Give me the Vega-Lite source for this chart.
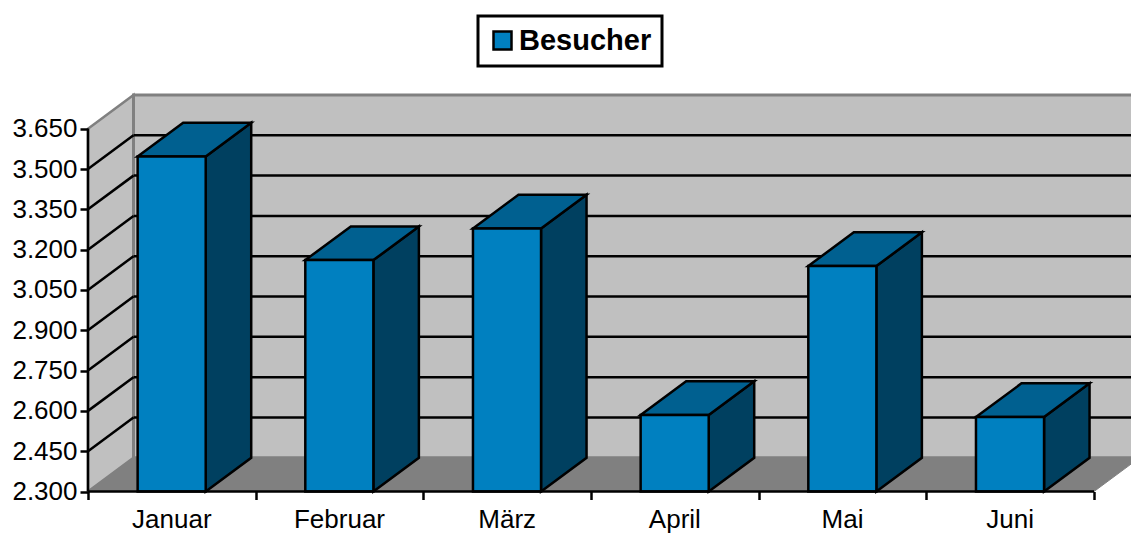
{
"$schema":"https://vega.github.io/schema/vega-lite/v6.json",
"width":1043,"height":396.5,
"autosize":{"type":"none"},
"padding":{"left":88,"top":95,"right":0,"bottom":41.5},
"background":"white",
"params":[{"name":"dx","value":0.2714},{"name":"dy","value":125.4},{"name":"b0","value":0.296},{"name":"b1","value":0.702}],
"datasets":{
"frame":[{"min":2300,"max":3650,"n":6}],
"grid":[{"v":2450},{"v":2600},{"v":2750},{"v":2900},{"v":3050},{"v":3200},{"v":3350},{"v":3500},{"v":3650}],
"bars":[
{"monat":"Januar","pos":0,"besucher":3547},
{"monat":"Februar","pos":1,"besucher":3161},
{"monat":"März","pos":2,"besucher":3279},
{"monat":"April","pos":3,"besucher":2585},
{"monat":"Mai","pos":4,"besucher":3139},
{"monat":"Juni","pos":5,"besucher":2577}
]},
"config":{"view":{"stroke":null},"font":"Liberation Sans",
"legend":{"strokeColor":"black","strokeWidth":3,"fillColor":"white"}},
"layer":[
{"data":{"name":"frame"},
"transform":[{"calculate":"[0,1]","as":"d"},{"flatten":["d"]},{"calculate":"datum.d*dx","as":"xp"},{"calculate":"datum.max+datum.d*dy","as":"yt"},{"calculate":"datum.min+datum.d*dy","as":"yb"}],
"mark":{"type":"area","orient":"vertical","fill":"#C0C0C0","stroke":"#808080","strokeWidth":2.5},
"encoding":{
"x":{"field":"xp","type":"quantitative","scale":{"domain":[0,6.2206]},"axis":{"values":[0,1,2,3,4,5,6],"labels":false,"domain":false,"grid":false,"title":null,"tickSize":8,"tickWidth":2.5,"tickColor":"black","zindex":1}},
"y":{"field":"yt","type":"quantitative","stack":null,"scale":{"domain":[2300,3775.4]},"axis":{"values":[2300,2450,2600,2750,2900,3050,3200,3350,3500,3650],"labelExpr":"replace(format(datum.value, ','), ',', '.')","domain":false,"grid":false,"title":null,"tickSize":8,"tickWidth":2.5,"tickColor":"black","labelFontSize":26,"labelFont":"Liberation Sans","labelColor":"black","labelPadding":3,"labelBaseline":"middle","zindex":1}},
"y2":{"field":"yb"}}},
{"data":{"name":"frame"},
"transform":[{"calculate":"dx","as":"x0"},{"calculate":"datum.n+dx","as":"x1"},{"calculate":"datum.max+dy","as":"y1"},{"calculate":"datum.min+dy","as":"y0"}],
"mark":{"type":"rect","fill":"#C0C0C0","stroke":"#808080","strokeWidth":3},
"encoding":{
"x":{"field":"x0","type":"quantitative","scale":{"domain":[0,6.2206]}},"x2":{"field":"x1"},
"y":{"field":"y0","type":"quantitative","scale":{"domain":[2300,3775.4]}},"y2":{"field":"y1"}}},
{"data":{"name":"frame"},
"transform":[{"calculate":"[0,1]","as":"d"},{"flatten":["d"]},{"calculate":"datum.d*dx","as":"xa"},{"calculate":"datum.n+datum.d*dx","as":"xb"},{"calculate":"datum.min+datum.d*dy","as":"yp"}],
"mark":{"type":"area","orient":"horizontal","fill":"#808080","stroke":"#808080","strokeWidth":1},
"encoding":{
"x":{"field":"xa","type":"quantitative","stack":null,"scale":{"domain":[0,6.2206]}},"x2":{"field":"xb"},
"y":{"field":"yp","type":"quantitative","scale":{"domain":[2300,3775.4]}}}},
{"data":{"name":"grid"},
"transform":[{"filter":"datum.v<3650"},{"calculate":"dx","as":"xa"},{"calculate":"6+dx","as":"xb"},{"calculate":"datum.v+dy","as":"yp"}],
"mark":{"type":"rule","stroke":"black","strokeWidth":2.5},
"encoding":{
"x":{"field":"xa","type":"quantitative","scale":{"domain":[0,6.2206]}},"x2":{"field":"xb"},
"y":{"field":"yp","type":"quantitative","scale":{"domain":[2300,3775.4]}}}},
{"data":{"name":"grid"},
"transform":[{"filter":"datum.v<3650"},{"calculate":"0","as":"xa"},{"calculate":"dx","as":"xb"},{"calculate":"datum.v+dy","as":"yp"}],
"mark":{"type":"rule","stroke":"black","strokeWidth":2.5},
"encoding":{
"x":{"field":"xa","type":"quantitative","scale":{"domain":[0,6.2206]}},"x2":{"field":"xb"},
"y":{"field":"v","type":"quantitative","scale":{"domain":[2300,3775.4]}},"y2":{"field":"yp"}}},
{"data":{"name":"bars"},
"transform":[{"calculate":"[0,1]","as":"d"},{"flatten":["d"]},{"calculate":"datum.pos+b1+datum.d*dx","as":"xp"},{"calculate":"datum.besucher+datum.d*dy","as":"yt"},{"calculate":"2300+datum.d*dy","as":"yb"}],
"mark":{"type":"area","orient":"vertical","fill":"#004060","stroke":"black","strokeWidth":2.5,"strokeJoin":"miter"},
"encoding":{
"x":{"field":"xp","type":"quantitative","scale":{"domain":[0,6.2206]}},
"y":{"field":"yt","type":"quantitative","stack":null,"scale":{"domain":[2300,3775.4]}},"y2":{"field":"yb"},
"detail":{"field":"monat"}}},
{"data":{"name":"bars"},
"transform":[{"calculate":"[0,1]","as":"d"},{"flatten":["d"]},{"calculate":"datum.pos+b0+datum.d*dx","as":"xa"},{"calculate":"datum.pos+b1+datum.d*dx","as":"xb"},{"calculate":"datum.besucher+datum.d*dy","as":"yp"}],
"mark":{"type":"area","orient":"horizontal","fill":"#006090","stroke":"black","strokeWidth":2.5,"strokeJoin":"miter"},
"encoding":{
"x":{"field":"xa","type":"quantitative","stack":null,"scale":{"domain":[0,6.2206]}},"x2":{"field":"xb"},
"y":{"field":"yp","type":"quantitative","scale":{"domain":[2300,3775.4]}},
"detail":{"field":"monat"}}},
{"data":{"name":"bars"},
"transform":[{"calculate":"datum.pos+b0","as":"xa"},{"calculate":"datum.pos+b1","as":"xb"},{"calculate":"2300","as":"yb"}],
"mark":{"type":"rect","stroke":"black","strokeWidth":2.5},
"encoding":{
"x":{"field":"xa","type":"quantitative","scale":{"domain":[0,6.2206]}},"x2":{"field":"xb"},
"y":{"field":"besucher","type":"quantitative","scale":{"domain":[2300,3775.4]}},"y2":{"field":"yb"},
"color":{"datum":"Besucher","type":"nominal","scale":{"domain":["Besucher"],"range":["#0080C0"]},
"legend":{"title":null,"orient":"none","legendX":390,"legendY":-79,"symbolType":"square","symbolSize":324,"symbolStrokeColor":"black","symbolStrokeWidth":2.5,"labelFontSize":29,"labelFontWeight":"bold","labelFont":"Liberation Sans","labelColor":"black","padding":10,"labelOffset":2,"symbolOpacity":1}}}},
{"data":{"name":"frame"},
"transform":[{"calculate":"0","as":"xa"}],
"mark":{"type":"rule","stroke":"black","strokeWidth":2.5},
"encoding":{
"x":{"field":"xa","type":"quantitative","scale":{"domain":[0,6.2206]}},
"y":{"field":"min","type":"quantitative","scale":{"domain":[2300,3775.4]}},"y2":{"field":"max"}}},
{"data":{"name":"frame"},
"transform":[{"calculate":"0","as":"xa"}],
"mark":{"type":"rule","stroke":"black","strokeWidth":2.5},
"encoding":{
"x":{"field":"xa","type":"quantitative","scale":{"domain":[0,6.2206]}},"x2":{"field":"n"},
"y":{"field":"min","type":"quantitative","scale":{"domain":[2300,3775.4]}}}},
{"data":{"name":"bars"},
"transform":[{"calculate":"datum.pos+0.5","as":"xm"},{"calculate":"2300","as":"yb"}],
"mark":{"type":"text","font":"Liberation Sans","fontSize":26,"fill":"black","dy":28.5,"baseline":"middle","align":"center"},
"encoding":{
"x":{"field":"xm","type":"quantitative","scale":{"domain":[0,6.2206]}},
"y":{"field":"yb","type":"quantitative","scale":{"domain":[2300,3775.4]}},
"text":{"field":"monat"}}}
]
}
